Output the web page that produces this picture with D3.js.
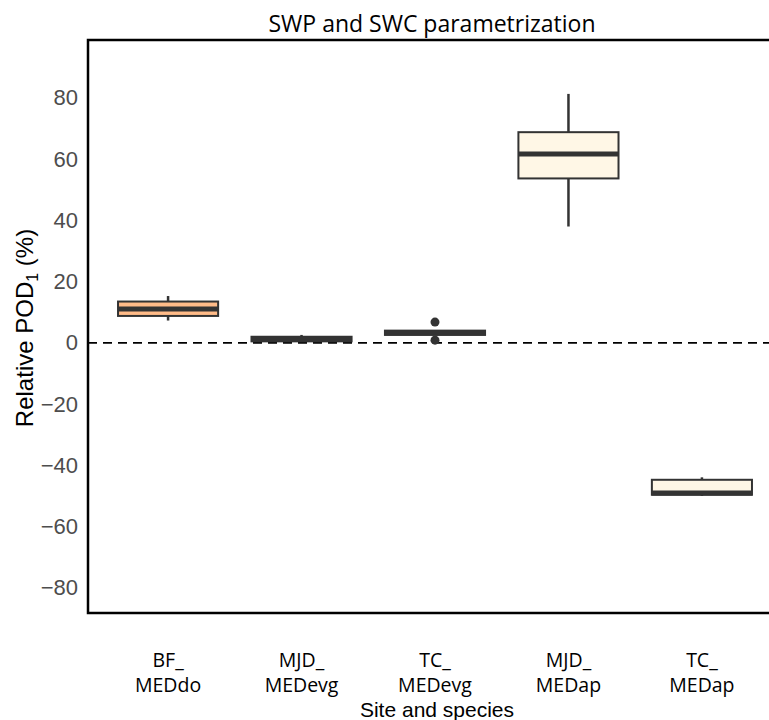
<!DOCTYPE html>
<html>
<head>
<meta charset="utf-8">
<script src="https://cdn.jsdelivr.net/npm/d3@7"></script>
<style>
  body { margin: 0; background: #fff; }
  svg { display: block; }
</style>
</head>
<body>
<div id="chart"></div>
<script>
// Data
const sites = ["BF_", "MJD_", "TC_", "MJD_", "TC_"];
const species = ["MEDdo", "MEDevg", "MEDevg", "MEDap", "MEDap"];
const whiskerLow = [7.3, 0.3, 3.3, 38, -50.0];
const q1 = [8.8, 0.5, 2.6, 53.7, -49.6];
const median = [11.1, 1.2, 3.3, 61.7, -49.0];
const q3 = [13.5, 2.0, 4.0, 68.8, -44.7];
const whiskerHigh = [15.3, 2.6, 3.3, 81.3, -43.9];
const outliers = [[], [], [6.8, 0.9], [], []];
const boxFill = ["#ffbb88", "#fff7e6", "#fff7e6", "#fff7e6", "#fff7e6"];
const yTicks = [-80, -60, -40, -20, 0, 20, 40, 60, 80];

const svgWidth = 769;
const svgHeight = 720;

// panel runs past the right edge of the picture
const margin = { top: 40, right: -13, bottom: 107, left: 88 };
const width = svgWidth - margin.left - margin.right;
const height = svgHeight - margin.top - margin.bottom;

const svg = d3.select("#chart")
    .append("svg")
    .attr("width", svgWidth)
    .attr("height", svgHeight);

const chartGroup = svg.append("g")
    .attr("transform", `translate(${margin.left}, ${margin.top})`);

const idx = d3.range(sites.length);

// ggplot style discrete axis: 0.6 step from the edge to the first centre
const xScale = d3.scaleBand()
    .domain(idx)
    .range([0, width])
    .paddingInner(0)
    .paddingOuter(0.1);

const xCenter = i => xScale(i) + xScale.bandwidth() / 2;
const boxW = xScale.bandwidth() * 0.75;

const yScale = d3.scaleLinear()
    .domain([-88.2, 98.9])
    .range([height, 0]);

// y tick labels
const leftAxis = d3.axisLeft(yScale)
    .tickValues(yTicks)
    .tickSize(0)
    .tickPadding(10)
    .tickFormat(d => d < 0 ? "\u2212" + Math.abs(d) : d);

const yAxis = chartGroup.append("g").call(leftAxis);
yAxis.select(".domain").remove();
yAxis.selectAll("text")
    .attr("fill", "#4d4d4d")
    .style("font-family", "Liberation Sans, Arial, sans-serif")
    .style("font-size", "22px");

// zero reference line
chartGroup.append("line")
    .attr("x1", 0)
    .attr("x2", width)
    .attr("y1", yScale(0))
    .attr("y2", yScale(0))
    .attr("stroke", "#000")
    .attr("stroke-width", 1.8)
    .attr("stroke-dasharray", "9,6");

// boxes
const boxes = chartGroup.selectAll(".box")
    .data(idx)
    .enter()
    .append("g")
    .classed("box", true);

boxes.append("line")
    .attr("x1", xCenter)
    .attr("x2", xCenter)
    .attr("y1", i => yScale(whiskerHigh[i]))
    .attr("y2", i => yScale(whiskerLow[i]))
    .attr("stroke", "#333")
    .attr("stroke-width", 2.5);

boxes.append("rect")
    .attr("x", i => xCenter(i) - boxW / 2)
    .attr("width", boxW)
    .attr("y", i => yScale(q3[i]))
    .attr("height", i => yScale(q1[i]) - yScale(q3[i]))
    .attr("fill", i => boxFill[i])
    .attr("stroke", "#333")
    .attr("stroke-width", 2);

boxes.append("line")
    .attr("x1", i => xCenter(i) - boxW / 2)
    .attr("x2", i => xCenter(i) + boxW / 2)
    .attr("y1", i => yScale(median[i]))
    .attr("y2", i => yScale(median[i]))
    .attr("stroke", "#333")
    .attr("stroke-width", 5);

boxes.selectAll(".outlier")
    .data(i => outliers[i].map(v => ({ i: i, v: v })))
    .enter()
    .append("circle")
    .classed("outlier", true)
    .attr("cx", d => xCenter(d.i))
    .attr("cy", d => yScale(d.v))
    .attr("r", 4.5)
    .attr("fill", "#333");

// panel border
chartGroup.append("rect")
    .attr("x", 0)
    .attr("y", 0)
    .attr("width", width)
    .attr("height", height)
    .attr("fill", "none")
    .attr("stroke", "#000")
    .attr("stroke-width", 2.5);

// x tick labels, two lines each
const xLabels = chartGroup.selectAll(".xlab")
    .data(idx)
    .enter()
    .append("text")
    .classed("xlab", true)
    .attr("text-anchor", "middle")
    .style("font-family", "Open Sans, sans-serif")
    .style("font-size", "19.5px")
    .attr("fill", "#000");

xLabels.append("tspan")
    .attr("x", xCenter)
    .attr("y", height + 54)
    .text(i => sites[i]);

xLabels.append("tspan")
    .attr("x", xCenter)
    .attr("y", height + 79)
    .text(i => species[i]);

// title
svg.append("text")
    .attr("x", 432)
    .attr("y", 32)
    .attr("text-anchor", "middle")
    .style("font-family", "Open Sans, sans-serif")
    .style("font-size", "23px")
    .text("SWP and SWC parametrization");

// x axis title
svg.append("text")
    .attr("x", 437)
    .attr("y", 717)
    .attr("text-anchor", "middle")
    .style("font-family", "Liberation Sans, Arial, sans-serif")
    .style("font-size", "21px")
    .text("Site and species");

// y axis title with subscript
const yTitle = svg.append("text")
    .attr("transform", `translate(33, 328) rotate(-90)`)
    .attr("text-anchor", "middle")
    .style("font-family", "Liberation Sans, Arial, sans-serif")
    .style("font-size", "24px");
yTitle.append("tspan").text("Relative POD");
yTitle.append("tspan").attr("dy", 5).style("font-size", "16px").text("1");
yTitle.append("tspan").attr("dy", -5).text(" (%)");
</script>
</body>
</html>
